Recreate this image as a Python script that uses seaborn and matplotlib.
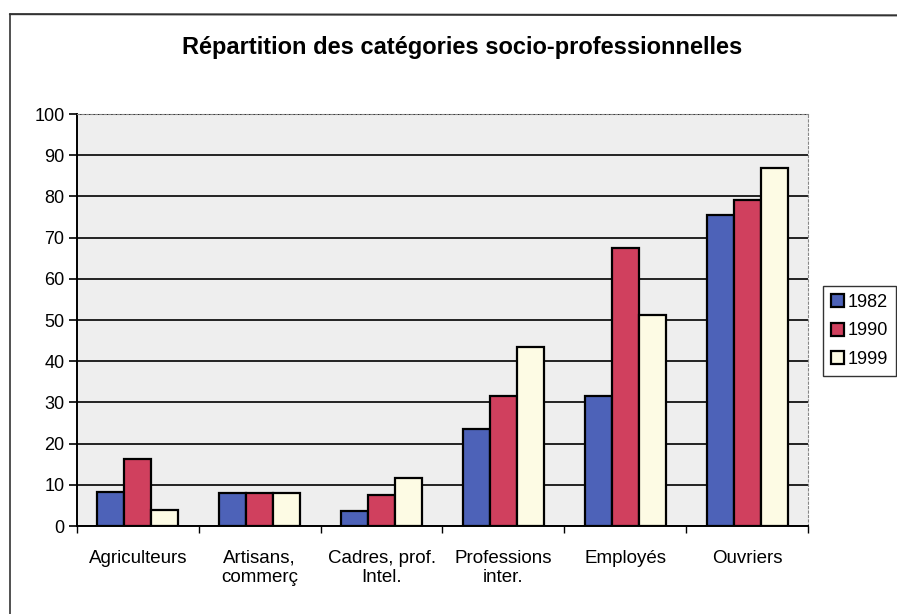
import matplotlib
matplotlib.use("Agg")
import matplotlib.pyplot as plt
import seaborn as sns
import pandas as pd
from matplotlib.lines import Line2D

categories = ["Agriculteurs", "Artisans,\ncommerç", "Cadres, prof.\nIntel.",
              "Professions\ninter.", "Employés", "Ouvriers"]
years = ["1982", "1990", "1999"]
v1982 = [8.2, 7.9, 3.7, 23.5, 31.5, 75.5]
v1990 = [16.2, 7.9, 7.5, 31.5, 67.5, 79.2]
v1999 = [4.0, 7.9, 11.6, 43.4, 51.3, 87.0]
colors = ["#4D62B8", "#D0405E", "#FDFBE4"]

rows = []
for yr, vals in zip(years, [v1982, v1990, v1999]):
    for c, v in zip(categories, vals):
        rows.append({"cat": c, "year": yr, "val": v})
df = pd.DataFrame(rows)

sns.set_style("white")
plt.rcParams["font.family"] = ["Liberation Sans", "DejaVu Sans"]
plt.rcParams["text.color"] = "black"
plt.rcParams["xtick.color"] = "black"
plt.rcParams["ytick.color"] = "black"

fig = plt.figure(figsize=(8.97, 6.14), dpi=100)
ax = fig.add_axes([0.0858, 0.1433, 0.815, 0.671])
ax.set_facecolor("#EEEEEE")

sns.barplot(data=df, x="cat", y="val", hue="year", order=categories, hue_order=years,
            palette=colors, width=0.665, gap=0, edgecolor="black", linewidth=1.6,
            saturation=1, ax=ax, legend=True, zorder=3)

ax.set_ylim(0, 100)
ax.set_xlim(-0.5, 5.5)
ax.set_yticks(range(0, 101, 10))
ax.tick_params(axis="y", labelsize=13, direction="out", length=6, width=1.2, left=True, pad=3)
ax.set_xticks(range(6))
ax.set_xticklabels(categories, fontsize=13.5, linespacing=1.15)
ax.tick_params(axis="x", length=0, pad=17)
ax.set_xticks([i + 0.5 for i in range(-1, 6)], minor=True)
ax.tick_params(axis="x", which="minor", length=5, width=1, direction="out", bottom=True)
ax.set_xlabel("")
ax.set_ylabel("")
ax.yaxis.grid(True, color="black", linewidth=1.2, zorder=0)
ax.set_axisbelow(True)
for s in ["left", "bottom"]:
    ax.spines[s].set_color("black")
    ax.spines[s].set_linewidth(1.4)
for s in ["top", "right"]:
    ax.spines[s].set_color("#888888")
    ax.spines[s].set_linewidth(0.8)
    ax.spines[s].set_linestyle((0, (2, 2)))

handles, labels = ax.get_legend_handles_labels()
ax.legend(handles, labels, loc="center left", bbox_to_anchor=(0.917, 0.461),
          bbox_transform=fig.transFigure, frameon=True, fancybox=False,
          edgecolor="black", fontsize=13, handlelength=0.75, handleheight=0.75,
          handletextpad=0.2, labelspacing=0.65, borderpad=0.45, borderaxespad=0)
ax.get_legend().get_frame().set_linewidth(1.0)

fig.text(0.515, 0.922, "Répartition des catégories socio-professionnelles",
         ha="center", va="center", fontsize=17, fontweight="bold")

fig.add_artist(Line2D([0.011, 1.0], [0.977, 0.975], color="#333333", lw=1.5, transform=fig.transFigure))
fig.add_artist(Line2D([0.011, 0.011], [0.977, 0.0], color="#333333", lw=1.2, transform=fig.transFigure))

fig.savefig("out.png", dpi=100)
